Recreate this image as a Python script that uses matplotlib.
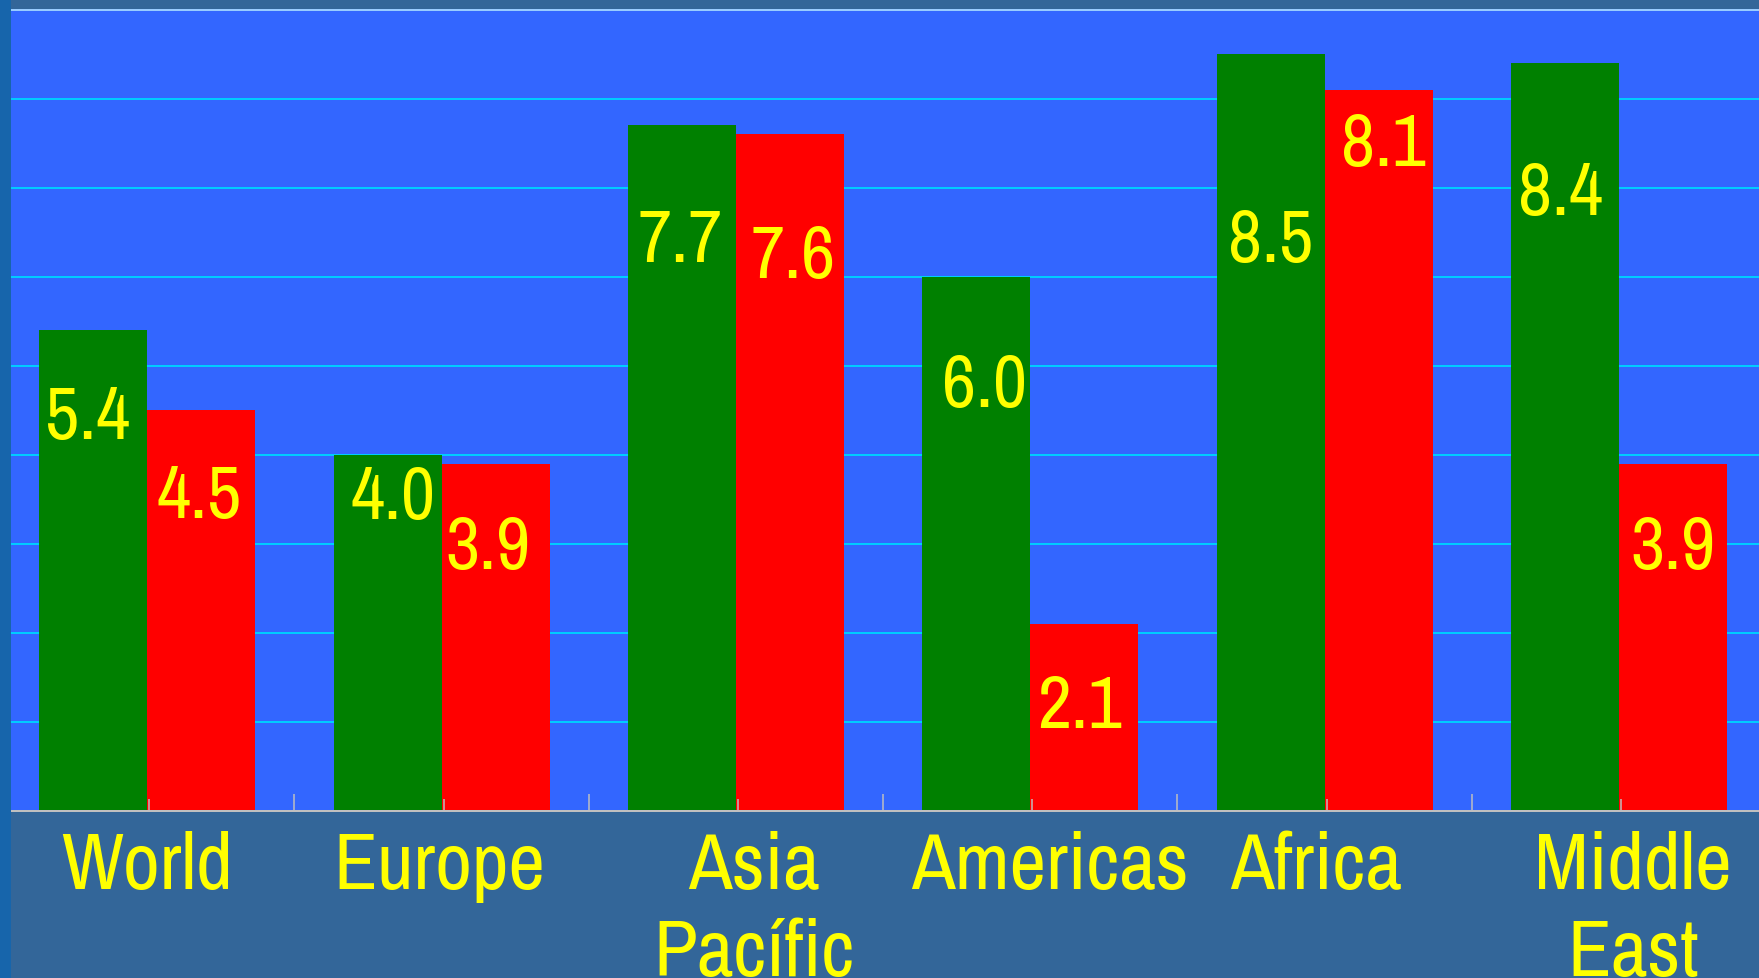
import matplotlib
matplotlib.use("Agg")
import matplotlib.pyplot as plt
from matplotlib.patches import Rectangle
from matplotlib import font_manager as fm
from matplotlib.textpath import TextPath
import numpy as np

# ---- data ----
categories = ["World", "Europe", "Asia\nPacífic", "Americas", "Africa", "Middle\nEast"]
green_values = [5.4, 4.0, 7.7, 6.0, 8.5, 8.4]
red_values = [4.5, 3.9, 7.6, 2.1, 8.1, 3.9]

# ---- layout / style (pixels) ----
W, H, DPI = 1759, 979, 100
PT = 72.0 / DPI  # points per pixel
green_label_drop = [108, 63, 136, 129, 207, 151]   # baseline below bar top
red_label_drop = [107, 104, 143, 103, 75, 104]
green_label_dx = [-6, 5, -2, 8, 0, -4]
red_label_dx = [-2, -8, 3, -5, 5, 0]
cat_label_dx = [0, -2, 18, 20, -9, 14]

FIG_BG = "#336699"
AX_BG = "#3366FF"
STRIPE = "#1765AB"
GREEN = "#008000"
RED = "#FF0000"
YELLOW = "#FFFF00"
GRID = "#00CCFF"
TOPLINE = "#99CCFF"
AXISGRAY = "#C0C0C0"

available = {f.name for f in fm.fontManager.ttflist}
candidates = ["Liberation Sans Narrow", "Arial Narrow", "Archivo Narrow",
              "Roboto Condensed", "PT Sans Narrow", "Arimo", "Liberation Sans"]
FONT = next(c for c in candidates if c in available)
FONTS = [FONT, "DejaVu Sans"]


def size_for_cap(text, cap_px):
    fp = fm.FontProperties(family=FONT)
    ext = TextPath((0, 0), text, size=100, prop=fp).get_extents()
    return cap_px / (ext.height / 100.0) * PT


VAL_FS = size_for_cap("0", 53)
CAT_FS = size_for_cap("E", 55)

fig = plt.figure(figsize=(W / DPI, H / DPI), dpi=DPI, facecolor=FIG_BG)
fig.patches.append(Rectangle((0, 0), 11 / W, 1, transform=fig.transFigure,
                             facecolor=STRIPE, edgecolor="none", zorder=0))

ax_left = 11 / W
ax_bottom = (H - 812) / H
ax_top = (H - 10.5) / H
ax = fig.add_axes([ax_left, ax_bottom, 1 - ax_left, ax_top - ax_bottom])
ax.set_facecolor(AX_BG)

x = np.arange(len(categories))
bw = 0.367
ax.bar(x - bw / 2, green_values, width=bw, color=GREEN, linewidth=0, zorder=2)
ax.bar(x + bw / 2, red_values, width=bw, color=RED, linewidth=0, zorder=2)

ax.set_xlim(-0.463, 5.476)
ax.set_ylim(0, 9)

# grid (below bars)
ax.set_yticks(np.arange(0, 10, 1))
ax.yaxis.grid(True, color=GRID, linewidth=2 * PT)
ax.set_axisbelow(True)
ax.tick_params(axis="y", left=False, labelleft=False)

# x ticks (above bars)
ax.set_xticks(x + 0.007)
ax.set_xticks(np.arange(0.5, len(categories) - 0.5, 1), minor=True)
ax.tick_params(axis="x", which="major", direction="in", length=12 * PT,
               width=1.5 * PT, color=AXISGRAY, labelbottom=False)
ax.tick_params(axis="x", which="minor", direction="in", length=17 * PT,
               width=1.5 * PT, color=AXISGRAY)
ax.xaxis.set_zorder(3.5)

for s in ["left", "right"]:
    ax.spines[s].set_visible(False)
ax.spines["bottom"].set_color(AXISGRAY)
ax.spines["bottom"].set_linewidth(2 * PT)
ax.spines["bottom"].set_zorder(3.6)
ax.spines["top"].set_color(TOPLINE)
ax.spines["top"].set_linewidth(2 * PT)
ax.spines["top"].set_zorder(3.6)

# value labels
for i in range(len(categories)):
    ax.annotate(f"{green_values[i]:.1f}", xy=(x[i] - bw / 2, green_values[i]),
                xytext=(green_label_dx[i] * PT, -green_label_drop[i] * PT),
                textcoords="offset points",
                ha="center", va="baseline", color=YELLOW, fontsize=VAL_FS,
                family=FONTS, zorder=4)
    ax.annotate(f"{red_values[i]:.1f}", xy=(x[i] + bw / 2, red_values[i]),
                xytext=(red_label_dx[i] * PT, -red_label_drop[i] * PT),
                textcoords="offset points",
                ha="center", va="baseline", color=YELLOW, fontsize=VAL_FS,
                family=FONTS, zorder=4)

# category labels
for i, name in enumerate(categories):
    ax.annotate(name, xy=(x[i], 0), xycoords=("data", "axes fraction"),
                xytext=(cat_label_dx[i] * PT, -19 * PT), textcoords="offset points",
                ha="center", va="top", color=YELLOW, fontsize=CAT_FS,
                family=FONTS, linespacing=1.265, annotation_clip=False)

fig.savefig("out.png", dpi=DPI, facecolor=FIG_BG)
